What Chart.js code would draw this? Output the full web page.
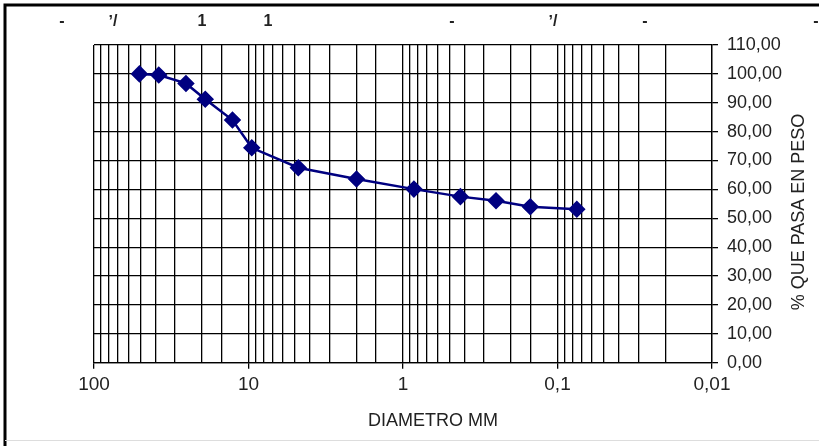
<!DOCTYPE html>
<html>
<head>
<meta charset="utf-8">
<script src="https://cdn.jsdelivr.net/npm/chart.js@4.4.1/dist/chart.umd.min.js"></script>
<style>
  html, body { margin: 0; padding: 0; background: #fff; }
  #wrap { width: 819px; height: 446px; position: relative; }
</style>
</head>
<body>
<div id="wrap"><canvas id="chart" width="819" height="446"></canvas></div>
<script>
// abertura del tamiz (mm) y % que pasa
const diametros = [50.8, 38.1, 25.4, 19.05, 12.7, 9.525, 4.76, 2.0, 0.85, 0.425, 0.25, 0.15, 0.075];
const pasa = [100.0, 99.6, 96.7, 91.2, 84.0, 74.4, 67.5, 63.6, 60.1, 57.5, 56.1, 54.0, 53.1];

const decadas = [100, 10, 1, 0.1, 0.01];
const decadaLabels = ['100', '10', '1', '0,1', '0,01'];

// restos de etiquetas cortadas arriba
const topMarks = ['-', '\u02bc/', '1', '1', '-', '\u02bc/', '-', '-'];
const topMarkX = [62, 113, 202, 268, 452, 553, 645, 816];

const xTitle = 'DIAMETRO MM';
const yTitle = '% QUE PASA EN PESO';

function decadeLabel(v) {
  for (let i = 0; i < decadas.length; i++) {
    if (Math.abs(v - decadas[i]) / decadas[i] < 1e-6) return decadaLabels[i];
  }
  return '';
}

const fontFam = '"Liberation Sans", Arial, sans-serif';

const extras = {
  id: 'extras',
  beforeDraw(chart) {
    const c = chart.ctx;
    c.save();
    c.fillStyle = '#fff';
    c.fillRect(0, 0, chart.width, chart.height);
    c.restore();
  },
  afterDraw(chart) {
    const c = chart.ctx;
    c.save();
    // marco
    c.strokeStyle = '#000';
    c.lineWidth = 3;
    c.beginPath();
    c.moveTo(5, 446);
    c.lineTo(5, 5);
    c.lineTo(819, 5);
    c.stroke();
    c.strokeStyle = '#ddd';
    c.lineWidth = 1;
    c.beginPath();
    c.moveTo(5, 440.5);
    c.lineTo(819, 440.5);
    c.stroke();

    c.fillStyle = '#222';
    c.font = 'bold 16px ' + fontFam;
    c.textAlign = 'center';
    c.textBaseline = 'middle';
    topMarks.forEach((t, i) => c.fillText(t, topMarkX[i], 22));

    c.fillStyle = '#222';
    c.font = '18px ' + fontFam;
    c.fillText(xTitle, 433, 421);
    c.translate(799, 212);
    c.rotate(-Math.PI / 2);
    c.fillText(yTitle, 0, 0);
    c.restore();
  }
};

new Chart(document.getElementById('chart'), {
  type: 'line',
  data: {
    datasets: [{
      data: diametros.map((d, i) => ({ x: d, y: pasa[i] })),
      borderColor: '#000080',
      backgroundColor: '#000080',
      borderWidth: 2.5,
      pointStyle: 'rectRot',
      pointRadius: 7,
      pointHoverRadius: 7,
      tension: 0
    }]
  },
  options: {
    responsive: false,
    animation: false,
    layout: { padding: { left: 94, top: 45, right: 0, bottom: 0 } },
    plugins: { legend: { display: false }, tooltip: { enabled: false } },
    scales: {
      x: {
        type: 'logarithmic',
        reverse: true,
        min: 0.01,
        max: 100,
        afterFit(s) { s.height = 83.3; },
        border: { color: '#000', width: 1.3 },
        grid: {
          color: '#000',
          lineWidth: 1.3,
          tickLength: 6,
          tickColor: ctx => decadeLabel(ctx.tick.value) ? '#000' : 'rgba(0,0,0,0)'
        },
        ticks: {
          autoSkip: false,
          maxRotation: 0,
          padding: 5,
          color: '#222',
          font: { family: fontFam, size: 19 },
          callback: v => decadeLabel(v)
        }
      },
      y: {
        position: 'right',
        min: 0,
        max: 110,
        afterFit(s) { s.width = 107; },
        border: { color: '#000', width: 1.3 },
        grid: { color: '#000', lineWidth: 1.3, tickLength: 6, tickColor: '#000' },
        ticks: {
          stepSize: 10,
          padding: 9,
          color: '#222',
          font: { family: fontFam, size: 18 },
          callback: v => v.toFixed(2).replace('.', ',')
        }
      }
    }
  },
  plugins: [extras]
});
</script>
</body>
</html>
